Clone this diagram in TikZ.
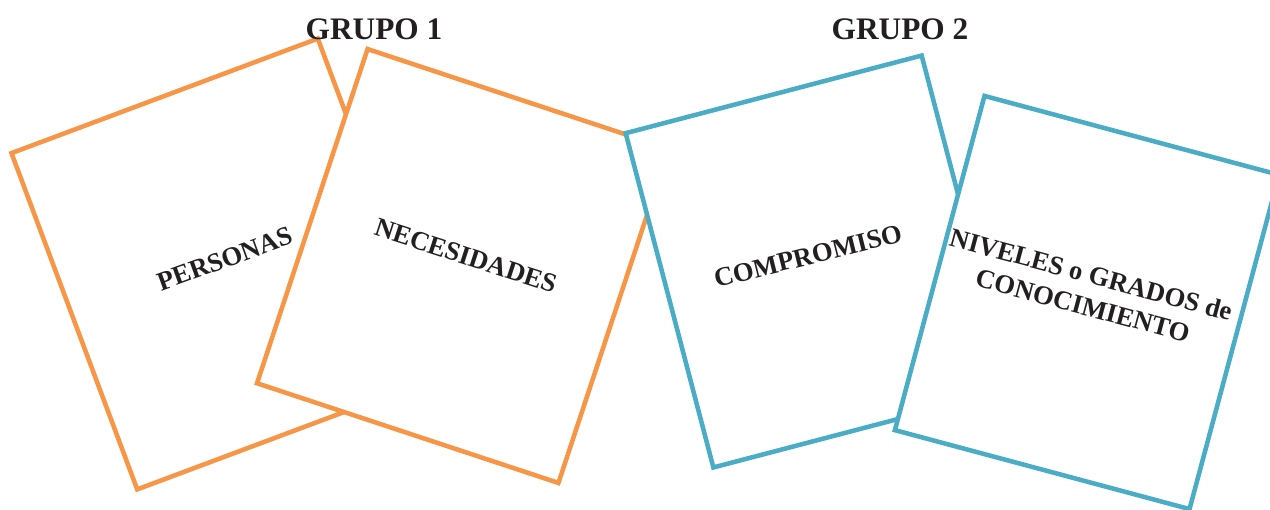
\documentclass[tikz,border=0pt]{standalone}
\usepackage{fontspec}
\setmainfont{Liberation Serif}
\definecolor{ora}{HTML}{F79646}
\definecolor{blu}{HTML}{4BACC6}
\definecolor{ink}{HTML}{231F20}
\tikzset{
  card/.style={draw, fill=white, line width=3.4pt, inner sep=0pt, shape=rectangle},
  orangecard/.style={card, draw=ora},
  bluecard/.style={card, draw=blu},
  cardtext/.style={text=ink, font=\bfseries\fontsize{20}{24}\selectfont, align=center, inner sep=0pt},
  title/.style={text=ink, font=\bfseries\fontsize{23.5}{28}\selectfont, inner sep=0pt, anchor=base}
}
\begin{document}
\begin{tikzpicture}[x=0.75pt, y=-0.75pt]
\useasboundingbox (0,0) rectangle (1270,510);
\clip (0,0) rectangle (1270,510);
\node[orangecard, rotate=20.5, minimum width=245.25pt, minimum height=269.25pt] (c1) at (227.5,264) {};
\node[cardtext, rotate=20] (t1) at (225,259) {PERSONAS};
\node[orangecard, rotate=-18.3, minimum width=238.1pt, minimum height=264pt] (c2) at (463,266) {};
\node[cardtext, rotate=-18] (t2) at (466,256) {NECESIDADES};
\node[bluecard, rotate=14.7, minimum width=229.5pt, minimum height=259.2pt] (c3) at (817.5,261.5) {};
\node[cardtext, rotate=14] (t3) at (808,256) {COMPROMISO};
\node[bluecard, rotate=-15, minimum width=228.75pt, minimum height=259.5pt] (c4) at (1087,302.5) {};
\node[cardtext, rotate=-15] (t4) at (1087,290) {NIVELES o GRADOS de\\CONOCIMIENTO};
\node[title] (g1) at (374,40) {GRUPO 1};
\node[title] (g2) at (900,40) {GRUPO 2};
\end{tikzpicture}
\end{document}
